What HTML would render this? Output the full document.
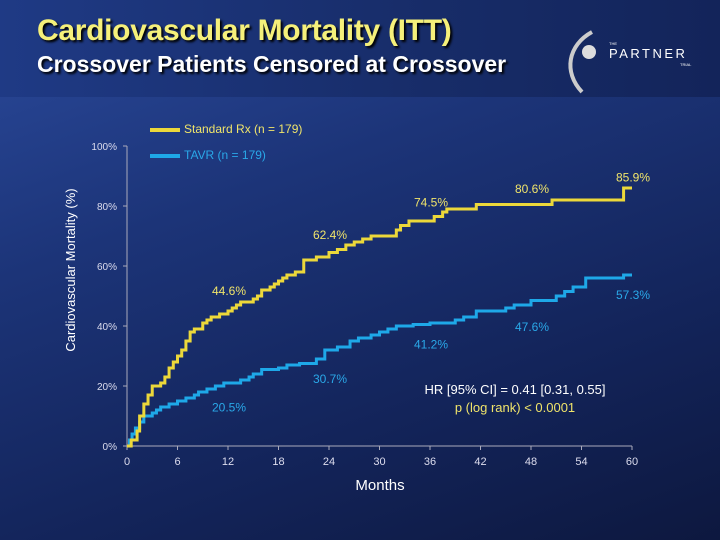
<!DOCTYPE html>
<html><head><meta charset="utf-8"><style>
body{margin:0;width:720px;height:540px;overflow:hidden;font-family:"Liberation Sans",sans-serif;}
#bg{position:absolute;left:0;top:0;width:720px;height:540px;background:linear-gradient(160deg,#2b4a9c 0%,#1c3478 35%,#13245a 70%,#0d183f 100%);}
#hdr{position:absolute;left:0;top:0;width:720px;height:97px;background:linear-gradient(90deg,#1f3a85,#172c68 60%,#13245a);}
</style></head><body>
<div id="bg"></div>
<div id="hdr"></div>
<div style="position:absolute;left:37px;top:14px;font-size:30px;font-weight:bold;color:#f5f07a;text-shadow:2px 2px 2px #000;letter-spacing:-0.3px;">Cardiovascular Mortality (ITT)</div>
<div style="position:absolute;left:37px;top:51px;font-size:23px;font-weight:bold;color:#fff;text-shadow:2px 2px 2px #000;">Crossover Patients Censored at Crossover</div>
<svg width="720" height="540" style="position:absolute;left:0;top:0" id="svg">
<g>
<path d="M592 32 C568 45 563 72 582 92" stroke="#ccc" stroke-width="4" fill="none"/>
<circle cx="589" cy="52" r="7" fill="#ddd"/>
<text x="609" y="45" font-size="4" fill="#fff" font-family="Liberation Sans">THE</text>
<text x="609" y="58" font-size="13" fill="#fff" letter-spacing="2.5" font-family="Liberation Sans">PARTNER</text>
<text x="680" y="66" font-size="4" fill="#fff" font-family="Liberation Sans">TRIAL</text>
</g>
</svg>
<script>
const yTicks=[0,20,40,60,80,100];
const xTicks=[0,6,12,18,24,30,36,42,48,54,60];
const stdMonths=[0,0.5,1.2,1.5,2,2.5,3,4,4.5,5,5.5,6,6.5,7,7.5,8,9,9.5,10,11,12,12.5,13,13.5,15,15.5,16,17,17.5,18,18.5,19,20,21,22.5,24,25,26,27,28,29,32,32.5,33.5,36.5,37.5,38,41.5,50.5,59,60];
const stdVals=[0,2,5,10,14,17,20,21,23,26,28,30,32,35,38,39,41,42,43,44,45,46,47,48,49,50,52,53,54,55,56,57,58,62,63,64.5,65.5,67,68,69,70,72,73.5,75,76.5,78,79,80.5,82,86,86];
const tavrMonths=[0,0.3,0.6,1,1.5,2,3,3.5,4,5,6,7,8,8.5,9.5,10.5,11.5,13.5,14.5,15,16,18,19,20.5,22.5,23.5,25,26.5,27.5,29,30,31,32,34,36,39,40,41.5,45,46,48,51,52,53,54.5,59,60];
const tavrVals=[0,2,4,6,8,10,11,12,13,14,15,16,17,18,19,20,21,22,23,24,25.5,26,27,27.5,29,32,33,35,36,37,38,39,40,40.5,41,42,43,45,46,47,48.5,50,51.5,53,56,57,57];
const labelMonths=[12,24,36,48,60];
const stdLabelVals=[44.6,62.4,74.5,80.6,85.9];
const tavrLabelVals=[20.5,30.7,41.2,47.6,57.3];
const stdLabelDy=[-17,-20,-16,-11,-7];
const tavrLabelDy=[27,29,26,28,25];
const X=m=>127+m*505/60, Y=v=>446-v*3;
const svg=document.getElementById('svg');
const NS="http://www.w3.org/2000/svg";
function mk(tag,attrs,txt){const e=document.createElementNS(NS,tag);for(const k in attrs)e.setAttribute(k,attrs[k]);if(txt!==undefined)e.textContent=txt;svg.appendChild(e);return e;}
let e=mk('line',{x1:127,y1:Y(100),x2:127,y2:446,stroke:'#aab',"stroke-width":1});

e=mk('line',{x1:127,y1:446,x2:632,y2:446,stroke:'#aab',"stroke-width":1});

yTicks.forEach(t=>{const l=mk('line',{x1:123,y1:Y(t),x2:127,y2:Y(t),stroke:'#aab'});

const tx=mk('text',{x:117,y:Y(t)+4,"text-anchor":"end","font-size":10,fill:'#dde','font-family':'Liberation Sans'},t+'%');
});
xTicks.forEach(t=>{const l=mk('line',{x1:X(t),y1:446,x2:X(t),y2:450,stroke:'#aab'});

const tx=mk('text',{x:X(t),y:465,"text-anchor":"middle","font-size":11,fill:'#dde','font-family':'Liberation Sans'},t);
});
function step(ms,vs){let d='M'+X(ms[0])+' '+Y(vs[0]);for(let i=1;i<ms.length;i++){d+=' H'+X(ms[i])+' V'+Y(vs[i]);}return d;}
e=mk('path',{d:step(tavrMonths,tavrVals),stroke:'#1ea8e8',"stroke-width":3,fill:'none'});

e=mk('path',{d:step(stdMonths,stdVals),stroke:'#ecd83a',"stroke-width":3,fill:'none'});

labelMonths.forEach((m,i)=>{
const t=mk('text',{x:X(m)+1,y:Y(stdLabelVals[i])+stdLabelDy[i],"text-anchor":"middle","font-size":12,fill:'#f0e46a','font-family':'Liberation Sans'},stdLabelVals[i].toFixed(1)+'%');

const u=mk('text',{x:X(m)+1,y:Y(tavrLabelVals[i])+tavrLabelDy[i],"text-anchor":"middle","font-size":12,fill:'#2aa8e8','font-family':'Liberation Sans'},tavrLabelVals[i].toFixed(1)+'%');
});
</script>
<div style="position:absolute;left:150px;top:122px;font-size:12px;color:#f0e46a;"><span style="display:inline-block;width:30px;height:4px;background:#ecd83a;vertical-align:middle;margin-right:4px"></span>Standard Rx (n = 179)</div>
<div style="position:absolute;left:150px;top:148px;font-size:12px;color:#2aa8e8;"><span style="display:inline-block;width:30px;height:4px;background:#1ea8e8;vertical-align:middle;margin-right:4px"></span>TAVR (n = 179)</div>
<div style="position:absolute;top:262px;width:200px;text-align:center;transform:rotate(-90deg);transform-origin:100px 8px;font-size:13px;color:#fff;left:-29px;">Cardiovascular Mortality (%)</div>
<div style="position:absolute;left:330px;top:477px;width:100px;text-align:center;font-size:15px;color:#fff;">Months</div>
<div style="position:absolute;left:395px;top:381px;width:240px;text-align:center;font-size:13px;line-height:18px;"><span style="color:#fff">HR [95% CI] = 0.41 [0.31, 0.55]</span><br><span style="color:#f0e46a">p (log rank) &lt; 0.0001</span></div>
</body></html>
